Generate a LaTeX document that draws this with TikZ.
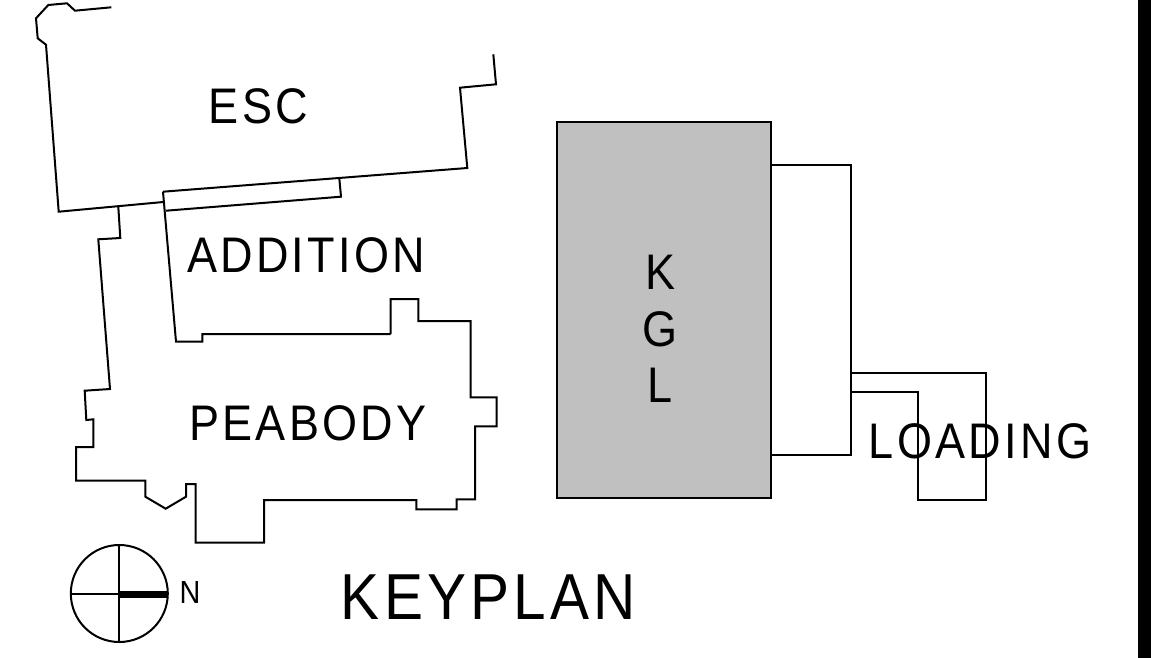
\documentclass[tikz,border=0pt]{standalone}
\usepackage{fontspec}
\setmainfont{Liberation Sans}
\newfontfamily\planfont[FakeStretch=0.9,LetterSpace=6.5]{Liberation Sans}
\usepackage{tikz}

\begin{document}
\begin{tikzpicture}[x=1pt, y=-1pt,
    wall/.style ={line width=2pt, line join=miter, black},
    tag/.style ={inner sep=0pt, font=\planfont\fontsize{50}{50}\selectfont}]
   \useasboundingbox (0,0) rectangle (1151,658);
   \fill[black] (1138,0) rectangle (1151,658);
   % ESC
   \draw[wall] (111.3,7.3) -- (75,10.7) -- (67,3.3) -- (48.3,5) -- (36,18.3) -- (37.7,38.3) -- (46,44.7) -- (58.7,211.7) -- (163.3,202);
   \draw[wall] (163,191.7) -- (467.3,168) -- (460,87.7) -- (496,84.3) -- (493.3,54.3);
   % ADDITION
   \draw[wall] (163,191.7) -- (176,341.7) -- (202.3,341.7) -- (202.3,334) -- (390.7,334);
   \draw[wall] (339.3,178.3) -- (341,196.7) -- (166,210.7);
   % PEABODY
   \draw[wall] (118.3,206.7) -- (120.3,238) -- (98.3,239.3) -- (110,389) -- (84.7,390.7) -- (86.3,420) -- (93.3,419.3) -- (93.3,447) -- (76,447) -- (76,480.7) -- (145.3,480.7) -- (145.3,496.7) -- (165.7,508.7) -- (186,496.7) -- (186,484) -- (195.7,484) -- (195.7,542.7) -- (264,542.7) -- (264,500) -- (416.3,500) -- (416.3,509.3) -- (456.7,509.3) -- (456.7,499.3) -- (475,499.3) -- (475,426.3) -- (496.7,426.3) -- (496.7,397.3) -- (470.7,397.3) -- (470.7,321) -- (418.3,321) -- (418.3,299) -- (390.7,299) -- (390.7,334);
   % KGL and LOADING
   \draw[wall, fill={rgb,255:red,192;green,192;blue,192}] (557,122) rectangle (771,498);
   \draw[wall] (771,165) -- (851,165) -- (851,455) -- (771,455);
   \draw[wall] (851,372.7) -- (985.7,372.7) -- (985.7,500) -- (918.3,500) -- (918.3,392.3) -- (851,392.3);
   % north arrow
   \draw[wall] (119.3,593.5) circle (48.5);
   \draw[wall] (71,593.5) -- (119.3,593.5);
   \draw[wall] (119.3,545) -- (119.3,642);
   \draw[line width=6.7pt] (119.3,594.3) -- (167,594.3);
   % labels
   \node[tag] (esc) at (258.5,106) {ESC};
   \node[tag] (addition) at (306,255) {ADDITION};
   \node[tag] (peabody) at (308,423) {PEABODY};
   \node[tag, align=center, font=\planfont\fontsize{50}{56.5}\selectfont] (kgl) at (660,329) {K\\G\\L};
   \node[tag] (loading) at (980,441) {LOADING};
   \node[tag, font=\planfont\fontsize{32}{32}\selectfont] (north) at (190,592) {N};
   \node[tag, font=\planfont\fontsize{65}{65}\selectfont] (keyplan) at (488.5,597) {KEYPLAN};
 \end{tikzpicture}
\end{document}
